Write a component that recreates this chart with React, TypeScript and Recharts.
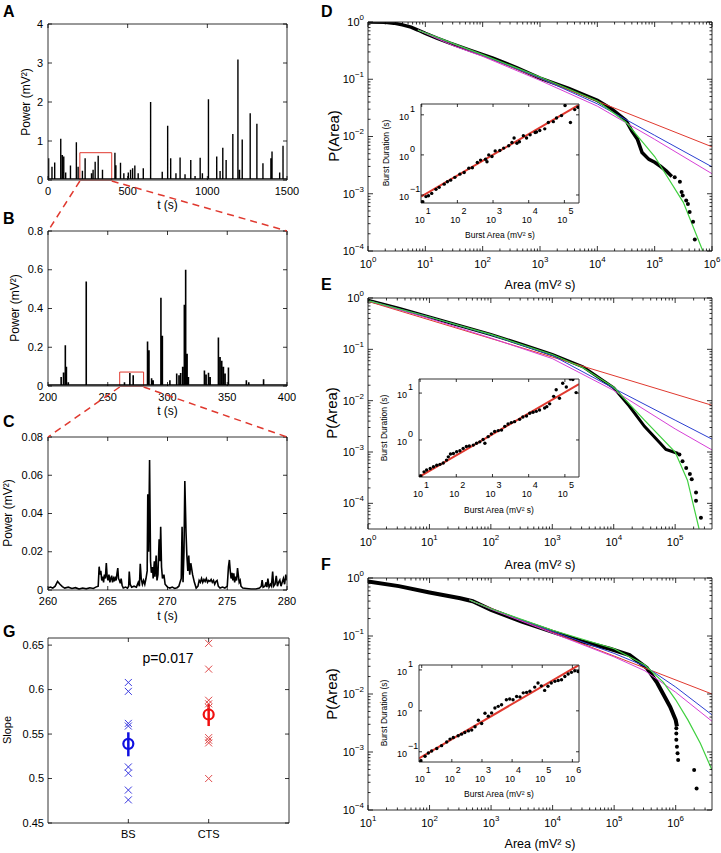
import React from 'react';
import { ComposedChart, Line, Scatter, XAxis, YAxis, ReferenceArea, CartesianGrid } from 'recharts';

const W = 721;
const H = 853;
const FONT = '"Liberation Sans", Arial, Helvetica, sans-serif';

// ---------- A: full recording, spike peaks (t in s, power in mV^2)
const aSpikeT = [4, 25, 42, 80, 90, 99, 111, 141, 178, 189, 216, 233, 273, 283, 296, 315, 342, 420, 426, 455, 476, 504, 518, 531, 545, 566, 598, 644, 717, 751, 770, 803, 829, 860, 896, 923, 955, 969, 1007, 1059, 1080, 1097, 1118, 1160, 1192, 1202, 1219, 1269, 1311, 1349, 1399, 1406, 1454, 1475];
const aSpikeP = [0.56, 0.34, 0.45, 1.06, 0.64, 0.6, 0.19, 0.37, 0.97, 0.34, 0.24, 0.56, 0.17, 0.26, 0.47, 0.62, 0.26, 0.7, 0.38, 0.44, 0.17, 0.19, 0.26, 0.3, 0.37, 0.17, 0.3, 2.0, 0.21, 1.39, 0.56, 0.17, 0.58, 0.15, 0.51, 0.1, 0.57, 0.17, 2.07, 0.6, 0.23, 0.83, 0.51, 1.18, 3.09, 0.26, 1.04, 1.71, 1.44, 0.43, 0.56, 0.73, 0.19, 0.88];
const aBase = 0.03;
const aXTicks = [0, 500, 1000, 1500];
const aYTicks = [0, 1, 2, 3, 4];
const aZoom = [200, 400, 0.7];

// ---------- B: 200-400 s
const bSpikeT = [211, 213, 214.5, 215.4, 217, 232, 264, 268.5, 271.3, 283.3, 284.5, 286.7, 288, 294.5, 295.7, 302, 307.7, 309.6, 311, 312.7, 314.1, 315.2, 316.4, 317.5, 330.9, 332.3, 334.3, 335.7, 342.6, 344, 345.4, 346.8, 348.2, 351, 366, 368, 380.4];
const bSpikeP = [0.046, 0.07, 0.21, 0.1, 0.02, 0.54, 0.02, 0.067, 0.056, 0.23, 0.185, 0.04, 0.03, 0.456, 0.26, 0.03, 0.065, 0.055, 0.067, 0.1, 0.42, 0.6, 0.167, 0.046, 0.08, 0.06, 0.068, 0.046, 0.25, 0.15, 0.13, 0.1, 0.065, 0.095, 0.03, 0.02, 0.035];
const bBase = 0.005;
const bXTicks = [200, 250, 300, 350, 400];
const bYTicks = [0, 0.2, 0.4, 0.6, 0.8];
const bZoom = [260, 280, 0.072];

// ---------- C: 260-280 s trace
const cTrace = [
  [260, 0.001], [260.2, 0.0015], [260.4, 0.001], [260.6, 0.002], [260.8, 0.0045], [261.0, 0.003], [261.2, 0.0018], [261.4, 0.001], [261.7, 0.0015], [262.0, 0.0008], [262.3, 0.0012], [262.6, 0.0005],
  [262.9, 0.001], [263.2, 0.0006], [263.5, 0.0012], [263.8, 0.0008], [264.0, 0.0015], [264.2, 0.002],
  [264.28, 0.0122], [264.35, 0.008], [264.42, 0.01], [264.5, 0.005], [264.58, 0.007], [264.65, 0.004], [264.72, 0.008], [264.8, 0.006], [264.88, 0.0141], [264.95, 0.007], [265.02, 0.005], [265.1, 0.008],
  [265.18, 0.004], [265.25, 0.006], [265.33, 0.0075], [265.4, 0.004], [265.48, 0.006], [265.55, 0.0045], [265.62, 0.007], [265.7, 0.005], [265.78, 0.009], [265.84, 0.0115], [265.9, 0.006], [265.98, 0.005],
  [266.05, 0.0035], [266.12, 0.006], [266.2, 0.0025], [266.3, 0.001], [266.5, 0.0015], [266.65, 0.001], [266.75, 0.002], [266.8, 0.0096], [266.88, 0.003], [267.0, 0.0015], [267.2, 0.002], [267.4, 0.0015],
  [267.55, 0.004], [267.65, 0.002], [267.72, 0.0137], [267.8, 0.006], [267.9, 0.003], [268.0, 0.005], [268.1, 0.003], [268.2, 0.006], [268.3, 0.01], [268.35, 0.05], [268.42, 0.02], [268.5, 0.068],
  [268.58, 0.015], [268.65, 0.009], [268.75, 0.012], [268.8, 0.006], [268.9, 0.015], [268.95, 0.007], [269.05, 0.018], [269.12, 0.005], [269.2, 0.008], [269.3, 0.0265], [269.38, 0.015], [269.43, 0.033],
  [269.5, 0.012], [269.58, 0.006], [269.7, 0.008], [269.8, 0.003], [270.0, 0.0015], [270.2, 0.001], [270.4, 0.0015], [270.6, 0.0008], [270.8, 0.0012], [270.95, 0.002], [271.05, 0.004], [271.15, 0.006],
  [271.22, 0.033], [271.3, 0.004], [271.38, 0.02], [271.45, 0.057], [271.55, 0.03], [271.62, 0.018], [271.7, 0.01], [271.78, 0.018], [271.86, 0.008], [271.95, 0.014], [272.1, 0.008], [272.25, 0.004],
  [272.4, 0.001], [272.55, 0.002], [272.65, 0.005], [272.75, 0.004], [272.85, 0.006], [272.95, 0.004], [273.05, 0.0055], [273.15, 0.0045], [273.25, 0.006], [273.35, 0.004], [273.45, 0.005], [273.55, 0.0045],
  [273.65, 0.0055], [273.75, 0.004], [273.85, 0.005], [273.95, 0.003], [274.05, 0.0045], [274.15, 0.005], [274.25, 0.002], [274.4, 0.001], [274.6, 0.0015], [274.8, 0.001], [275.0, 0.002], [275.1, 0.012],
  [275.18, 0.0157], [275.25, 0.01], [275.32, 0.006], [275.4, 0.009], [275.47, 0.005], [275.55, 0.0087], [275.62, 0.004], [275.7, 0.007], [275.78, 0.005], [275.86, 0.0115], [275.92, 0.008], [276.0, 0.004],
  [276.08, 0.005], [276.15, 0.002], [276.3, 0.001], [276.6, 0.0008], [277.0, 0.0005], [277.4, 0.0005], [277.7, 0.001], [277.85, 0.002], [277.92, 0.0052], [278.0, 0.0015], [278.15, 0.002], [278.25, 0.004],
  [278.32, 0.0015], [278.4, 0.006], [278.5, 0.0015], [278.62, 0.003], [278.7, 0.002], [278.8, 0.0096], [278.88, 0.002], [279.0, 0.003], [279.1, 0.0074], [279.2, 0.002], [279.3, 0.004], [279.4, 0.0052],
  [279.5, 0.002], [279.6, 0.004], [279.7, 0.006], [279.8, 0.003], [279.9, 0.008], [280, 0.005],
];
const cXTicks = [260, 265, 270, 275, 280];
const cYTicks = [0, 0.02, 0.04, 0.06, 0.08];

// ---------- G: slopes
const gCats = ['BS', 'CTS'];
const gBS = [0.608, 0.598, 0.562, 0.559, 0.513, 0.506, 0.487, 0.476];
const gCTS = [0.652, 0.623, 0.588, 0.584, 0.58, 0.546, 0.543, 0.54, 0.5];
const gMean = [0.539, 0.572];
const gLo = [0.525, 0.559];
const gHi = [0.552, 0.584];
const gYTicks = [0.45, 0.5, 0.55, 0.6, 0.65];

// ---------- D/E/F: CCDF of burst area, [log10 area, log10 P]
const dBlack = [[0, 0], [0.3, -0.005], [0.45, -0.02], [0.6, -0.05], [0.75, -0.09], [0.87, -0.14], [1.0, -0.2], [1.2, -0.28], [1.43, -0.37], [1.8, -0.5], [2.18, -0.63], [2.6, -0.8], [3, -0.98], [3.5, -1.16], [4, -1.37], [4.25, -1.52], [4.5, -1.72], [4.6, -1.9], [4.7, -2.05], [4.78, -2.28], [4.9, -2.4], [5.0, -2.45], [5.1, -2.52], [5.2, -2.6], [5.3, -2.7]];
const dDots = [[5.35, -2.71], [5.44, -2.79], [5.47, -2.97], [5.49, -3.03], [5.55, -3.12], [5.58, -3.18], [5.61, -3.32], [5.67, -3.49], [5.70, -3.8]];
const dRed = [[0.87, -0.14], [6, -2.18]];
const dBlue = [[0.87, -0.14], [2, -0.58], [3, -0.98], [4, -1.43], [5, -1.98], [6, -2.53]];
const dMagenta = [[0.87, -0.14], [1.5, -0.42], [2, -0.6], [3, -1.02], [4, -1.47], [5, -2.05], [6, -2.65]];
const dGreen = [[0.87, -0.14], [2, -0.57], [3, -0.96], [4, -1.38], [4.5, -1.75], [5, -2.35], [5.5, -3.15], [5.84, -4.0], [5.9, -4.2]];

const eBlack = [[0, -0.045], [0.5, -0.2], [1, -0.37], [1.5, -0.54], [2, -0.71], [2.5, -0.9], [3, -1.1], [3.5, -1.34], [4, -1.75], [4.25, -2.1], [4.5, -2.5], [4.75, -2.82], [4.85, -2.95], [5.0, -3.01], [5.05, -3.03]];
const eDots = [[5.07, -3.05], [5.12, -3.18], [5.18, -3.31], [5.24, -3.43], [5.27, -3.53], [5.34, -3.79], [5.34, -3.95], [5.42, -4.28]];
const eRed = [[0, -0.065], [5.6, -2.09]];
const eBlue = [[0, -0.05], [1, -0.37], [2, -0.72], [3, -1.12], [4, -1.76], [5, -2.38], [5.6, -2.75]];
const eMagenta = [[0, -0.05], [1, -0.4], [2, -0.78], [3, -1.18], [4, -1.8], [5, -2.55], [5.6, -2.96]];
const eGreen = [[0, -0.05], [1, -0.37], [2, -0.71], [3, -1.1], [3.5, -1.36], [4, -1.74], [4.5, -2.38], [5, -3.0], [5.2, -3.55], [5.39, -4.5]];

const fBlack = [[1, -0.06], [1.5, -0.14], [2, -0.25], [2.5, -0.35], [2.7, -0.4], [3, -0.55], [3.5, -0.75], [4, -0.93], [4.5, -1.1], [4.93, -1.22], [5.25, -1.33], [5.53, -1.55], [5.7, -1.81], [5.91, -2.22], [6.0, -2.45], [6.02, -2.56]];
const fDots = [[6.01, -2.59], [6.01, -2.68], [6.01, -2.79], [6.02, -2.91], [6.03, -3.02], [6.04, -3.14], [6.3, -3.31], [6.34, -3.63]];
const fRed = [[2.65, -0.38], [6.59, -2.0]];
const fBlue = [[2.65, -0.38], [3, -0.53], [4, -0.92], [5, -1.3], [5.5, -1.52], [6, -1.88], [6.59, -2.36]];
const fMagenta = [[2.65, -0.38], [3, -0.54], [4, -0.95], [5, -1.36], [5.5, -1.6], [6, -1.97], [6.59, -2.47]];
const fGreen = [[2.65, -0.38], [3, -0.53], [4, -0.9], [5, -1.22], [5.5, -1.5], [5.8, -1.8], [6, -2.1], [6.2, -2.45], [6.4, -2.85], [6.59, -3.31]];

// insets: burst duration vs burst area, [log10 area, log10 duration]
const dInsetPts = [[1.03, -1.17], [1.12, -1.04], [1.19, -1.02], [1.28, -0.96], [1.4, -0.86], [1.49, -0.81], [1.63, -0.73], [1.72, -0.67], [1.81, -0.63], [1.93, -0.56], [2.07, -0.48], [2.19, -0.44], [2.32, -0.33], [2.42, -0.32], [2.56, -0.19], [2.65, -0.13], [2.79, -0.11], [2.83, -0.17], [2.88, 0.0], [2.97, -0.04], [3.06, 0.1], [3.19, 0.11], [3.3, 0.17], [3.44, 0.23], [3.53, 0.31], [3.59, 0.42], [3.67, 0.29], [3.74, 0.33], [3.85, 0.48], [3.94, 0.42], [4.04, 0.5], [4.18, 0.56], [4.22, 0.57], [4.31, 0.61], [4.45, 0.65], [4.55, 0.81], [4.69, 0.83], [4.78, 0.92], [4.92, 0.98], [5.02, 1.23], [5.17, 0.81], [5.29, 1.13], [5.38, 1.19]];
const dInsetFit = [[0.98, -1.04], [5.41, 1.25]];
const eInsetPts = [[1.02, -0.77], [1.11, -0.68], [1.18, -0.64], [1.28, -0.61], [1.37, -0.57], [1.46, -0.54], [1.55, -0.52], [1.64, -0.49], [1.73, -0.43], [1.78, -0.36], [1.84, -0.3], [1.92, -0.29], [2.01, -0.25], [2.1, -0.23], [2.19, -0.18], [2.28, -0.14], [2.36, -0.13], [2.47, -0.11], [2.56, -0.07], [2.65, -0.04], [2.74, 0.01], [2.79, -0.07], [2.88, 0.07], [2.97, 0.13], [3.06, 0.18], [3.16, 0.2], [3.25, 0.21], [3.34, 0.29], [3.43, 0.34], [3.52, 0.37], [3.61, 0.39], [3.75, 0.44], [3.84, 0.49], [3.94, 0.51], [4.03, 0.57], [4.12, 0.59], [4.21, 0.61], [4.3, 0.64], [4.44, 0.68], [4.5, 0.71], [4.58, 0.77], [4.69, 0.93], [4.76, 1.07], [4.85, 0.89], [4.94, 1.21], [5.04, 1.13], [5.15, 1.3], [5.22, 1.29], [5.31, 1.01]];
const eInsetFit = [[0.97, -0.79], [5.39, 1.19]];
const fInsetPts = [[0.97, -1.22], [1.11, -1.11], [1.22, -1.03], [1.33, -0.98], [1.5, -0.92], [1.66, -0.85], [1.83, -0.76], [1.94, -0.69], [2.05, -0.65], [2.21, -0.61], [2.32, -0.57], [2.43, -0.53], [2.55, -0.49], [2.66, -0.47], [2.77, -0.39], [2.88, -0.23], [2.99, -0.31], [3.1, -0.06], [3.21, -0.13], [3.32, -0.05], [3.43, 0.07], [3.54, 0.11], [3.65, 0.15], [3.81, 0.27], [3.92, 0.29], [4.03, 0.27], [4.15, 0.35], [4.26, 0.34], [4.37, 0.44], [4.48, 0.45], [4.59, 0.48], [4.75, 0.58], [4.86, 0.68], [4.97, 0.61], [5.08, 0.5], [5.19, 0.6], [5.3, 0.68], [5.42, 0.72], [5.53, 0.74], [5.64, 0.76], [5.75, 0.84], [5.86, 0.9], [5.97, 0.94], [6.08, 0.98], [6.19, 0.96]];
const fInsetFit = [[0.91, -1.16], [6.22, 1.12]];

const decades = (lo: number, hi: number) => {
  const out: number[] = [];
  for (let e = lo; e <= hi; e++) out.push(10 ** e);
  return out;
};
const minorTicks = (lo: number, hi: number) => {
  const out: number[] = [];
  for (let e = Math.floor(lo); e < Math.ceil(hi); e++)
    for (let m = 2; m <= 9; m++) {
      const lv = Math.log10(m) + e;
      if (lv > lo && lv < hi) out.push(m * 10 ** e);
    }
  return out;
};

const spikes = (ts: number[], ps: number[], base: number, x0: number, x1: number) => [
  { x: x0, y: base },
  ...ts.flatMap((t, i) => [{ x: t, y: base }, { x: t, y: ps[i] }, { x: t, y: base }]),
  { x: x1, y: base },
];
const pairs = (pts: number[][]) => pts.map(([x, y]) => ({ x, y }));
const fromLog = (pts: number[][]) => pts.map(([lx, ly]) => ({ x: 10 ** lx, y: 10 ** ly }));

type Rect = { l: number; t: number; r: number; b: number };
type Kind = 'num' | 'pow' | 'inset' | 'cat';
type Ax = { domain: [number, number]; log?: boolean; majors: number[]; minors?: number[]; kind: Kind; fmt?: (v: number) => string };
type Cfg = { rect: Rect; x: Ax; y: Ax; fs: number; len: number; minorLen?: number; xOff: number; yOff: number; bg?: boolean };

const expText = (v: number) => {
  const e = Math.round(Math.log10(v));
  return e < 0 ? `\u2212${-e}` : `${e}`;
};

function tickFor(side: 'bottom' | 'top' | 'left' | 'right', cfg: Cfg, ax: Ax) {
  const { rect, fs, len } = cfg;
  const mlen = cfg.minorLen ?? len / 2;
  return (p: any) => {
    const v = Number(p.payload.value);
    const major = ax.majors.some((m) => Math.abs(m - v) <= Math.abs(m) * 1e-6 + 1e-12);
    const L = major ? len : mlen;
    const c = side === 'bottom' || side === 'top' ? p.x : p.y;
    let tl;
    if (side === 'bottom') tl = <line x1={c} x2={c} y1={rect.b} y2={rect.b - L} />;
    else if (side === 'top') tl = <line x1={c} x2={c} y1={rect.t} y2={rect.t + L} />;
    else if (side === 'left') tl = <line x1={rect.l} x2={rect.l + L} y1={c} y2={c} />;
    else tl = <line x1={rect.r} x2={rect.r - L} y1={c} y2={c} />;
    let label: React.ReactNode = null;
    const tp = { fontSize: fs, fontFamily: FONT, fill: '#000', stroke: 'none' };
    if (major && side === 'bottom') {
      const y = rect.b + cfg.xOff;
      if (ax.kind === 'pow')
        label = (
          <text x={c} y={y} textAnchor="middle" {...tp}>
            10<tspan dy={-6} fontSize={fs * 0.72}>{expText(v)}</tspan>
          </text>
        );
      else if (ax.kind === 'inset')
        label = (
          <g>
            <text x={c - 2} y={y} textAnchor="middle" {...tp}>10</text>
            <text x={c + 4} y={y - 9} {...tp}>{expText(v)}</text>
          </g>
        );
      else label = <text x={c} y={y} textAnchor="middle" {...tp}>{ax.fmt ? ax.fmt(v) : String(v)}</text>;
    }
    if (major && side === 'left') {
      const x = rect.l - cfg.yOff;
      if (ax.kind === 'pow')
        label = (
          <text x={x} y={c + fs * 0.36} textAnchor="end" {...tp}>
            10<tspan dy={-6} fontSize={fs * 0.72}>{expText(v)}</tspan>
          </text>
        );
      else if (ax.kind === 'inset')
        label = (
          <g>
            <text x={x} y={c + 5} textAnchor="end" {...tp}>10</text>
            <text x={x + 1} y={c - 3} {...tp}>{expText(v)}</text>
          </g>
        );
      else label = <text x={x} y={c + fs * 0.33} textAnchor="end" {...tp}>{ax.fmt ? ax.fmt(v) : String(v)}</text>;
    }
    return (
      <g>
        <g stroke="#000" strokeWidth={0.8}>{tl}</g>
        {label}
      </g>
    );
  };
}

function axes(cfg: Cfg) {
  const common = {
    allowDataOverflow: true,
    tickLine: false,
    tickSize: 0,
    interval: 0 as const,
    axisLine: { stroke: '#333', strokeWidth: 1 },
  };
  const xt = [...cfg.x.majors, ...(cfg.x.minors ?? [])];
  const yt = [...cfg.y.majors, ...(cfg.y.minors ?? [])];
  const xs = cfg.x.log ? 'log' : 'linear';
  const ys = cfg.y.log ? 'log' : 'linear';
  return [
    <XAxis key="xb" xAxisId="b" orientation="bottom" dataKey="x" type="number" scale={xs} domain={cfg.x.domain} ticks={xt} height={1} tick={tickFor('bottom', cfg, cfg.x)} {...common} />,
    <XAxis key="xt" xAxisId="t" orientation="top" dataKey="x" type="number" scale={xs} domain={cfg.x.domain} ticks={xt} height={1} tick={tickFor('top', cfg, cfg.x)} {...common} />,
    <YAxis key="yl" yAxisId="l" orientation="left" dataKey="y" type="number" scale={ys} domain={cfg.y.domain} ticks={yt} width={1} tick={tickFor('left', cfg, cfg.y)} {...common} />,
    <YAxis key="yr" yAxisId="r" orientation="right" dataKey="y" type="number" scale={ys} domain={cfg.y.domain} ticks={yt} width={1} tick={tickFor('right', cfg, cfg.y)} {...common} />,
  ];
}

function Chart({ cfg, children }: { cfg: Cfg; children: React.ReactNode }) {
  // one pixel per axis band, so the plot area lands exactly on cfg.rect
  const m = { top: cfg.rect.t - 1, left: cfg.rect.l - 1, right: W - cfg.rect.r - 1, bottom: H - cfg.rect.b - 1 };
  return (
    <div style={{ position: 'absolute', left: 0, top: 0 }}>
      <ComposedChart width={W} height={H} margin={m}>
        {cfg.bg && <CartesianGrid xAxisId="b" yAxisId="l" horizontal={false} vertical={false} fill="#fff" fillOpacity={1} />}
        {axes(cfg)}
        {children}
      </ComposedChart>
    </div>
  );
}

const S = { xAxisId: 'b', yAxisId: 'l', isAnimationActive: false, dot: false, activeDot: false, type: 'linear' as const };

const Dot = (r: number) => (p: any) => <circle cx={p.cx} cy={p.cy} r={r} fill="#000" />;
const XMark = (color: string) => (p: any) => (
  <path d={`M${p.cx - 3.5},${p.cy - 3.5}L${p.cx + 3.5},${p.cy + 3.5}M${p.cx - 3.5},${p.cy + 3.5}L${p.cx + 3.5},${p.cy - 3.5}`} stroke={color} strokeWidth={1} fill="none" />
);
const Ring = (color: string) => (p: any) => <circle cx={p.cx} cy={p.cy} r={5} fill="none" stroke={color} strokeWidth={2.2} />;

const RED = '#e0392f';
const BLUE = '#2b3fd0';
const MAGENTA = '#d63fd6';
const GREEN = '#40d040';

const num = { kind: 'num' as const };
const aCfg: Cfg = { rect: { l: 48, t: 24, r: 287, b: 180 }, x: { domain: [0, 1500], majors: aXTicks, ...num }, y: { domain: [0, 4], majors: aYTicks, ...num }, fs: 11, len: 4, xOff: 15, yOff: 5 };
const bCfg: Cfg = { rect: { l: 48, t: 231, r: 287, b: 386 }, x: { domain: [200, 400], majors: bXTicks, ...num }, y: { domain: [0, 0.8], majors: bYTicks, ...num }, fs: 11, len: 4, xOff: 15, yOff: 5 };
const cCfg: Cfg = { rect: { l: 48, t: 437, r: 287, b: 590 }, x: { domain: [260, 280], majors: cXTicks, ...num }, y: { domain: [0, 0.08], majors: cYTicks, ...num }, fs: 11, len: 4, xOff: 15, yOff: 5 };
const gCfg: Cfg = {
  rect: { l: 48, t: 638, r: 289, b: 823 },
  x: { domain: [0, 3], majors: [1, 2], kind: 'cat', fmt: (v) => gCats[Math.round(v) - 1] },
  y: { domain: [0.45, 0.658], majors: gYTicks, ...num },
  fs: 11, len: 4, xOff: 15, yOff: 4,
};
const logAx = (lo: number, hi: number, kind: Kind, minors = true): Ax => ({
  domain: [10 ** lo, 10 ** hi],
  log: true,
  majors: decades(Math.ceil(lo - 1e-9), Math.floor(hi + 1e-9)),
  minors: minors ? minorTicks(lo, hi) : [],
  kind,
});
const dCfg: Cfg = { rect: { l: 368, t: 22, r: 712, b: 251 }, x: logAx(0, 6, 'pow'), y: logAx(-4, 0, 'pow'), fs: 11, len: 5, minorLen: 2.5, xOff: 17, yOff: 4 };
const eCfg: Cfg = { rect: { l: 368, t: 298, r: 712, b: 529 }, x: logAx(0, 5.6, 'pow'), y: logAx(-4.5, 0, 'pow'), fs: 11, len: 5, minorLen: 2.5, xOff: 17, yOff: 4 };
const fCfg: Cfg = { rect: { l: 368, t: 578, r: 712, b: 810 }, x: logAx(1, 6.59, 'pow'), y: logAx(-4, 0, 'pow'), fs: 11, len: 5, minorLen: 2.5, xOff: 17, yOff: 4 };
const diCfg: Cfg = { rect: { l: 421, t: 104, r: 579, b: 203 }, x: logAx(0.98, 5.41, 'inset', false), y: logAx(-1.2, 1.27, 'inset', false), fs: 9, len: 3, xOff: 20, yOff: 12, bg: true };
const eiCfg: Cfg = { rect: { l: 419, t: 379, r: 579, b: 477 }, x: logAx(0.97, 5.39, 'inset', false), y: logAx(-0.79, 1.3, 'inset', false), fs: 9, len: 3, xOff: 20, yOff: 12, bg: true };
const fiCfg: Cfg = { rect: { l: 419, t: 665, r: 579, b: 762 }, x: logAx(0.91, 6.22, 'inset', false), y: logAx(-1.25, 1.12, 'inset', false), fs: 9, len: 3, xOff: 20, yOff: 12, bg: true };

function CcdfPanel({ cfg, black, dots, red, blue, magenta, green, bw }: any) {
  return (
    <Chart cfg={cfg}>
      <Line {...S} data={fromLog(black)} dataKey="y" stroke="#000" strokeWidth={bw} />
      <Line {...S} data={fromLog(red)} dataKey="y" stroke={RED} strokeWidth={1} />
      <Line {...S} data={fromLog(blue)} dataKey="y" stroke={BLUE} strokeWidth={1} />
      <Line {...S} data={fromLog(magenta)} dataKey="y" stroke={MAGENTA} strokeWidth={1} />
      <Line {...S} data={fromLog(green)} dataKey="y" stroke={GREEN} strokeWidth={1.2} />
      <Scatter xAxisId="b" yAxisId="l" data={fromLog(dots)} isAnimationActive={false} shape={Dot(2)} />
    </Chart>
  );
}

function InsetPanel({ cfg, pts, fit }: any) {
  return (
    <Chart cfg={cfg}>
      <Scatter xAxisId="b" yAxisId="l" data={fromLog(pts)} isAnimationActive={false} shape={Dot(1.7)} />
      <Line {...S} data={fromLog(fit)} dataKey="y" stroke={RED} strokeWidth={2} />
    </Chart>
  );
}

const xOf = (cfg: Cfg, v: number) => cfg.rect.l + ((v - cfg.x.domain[0]) / (cfg.x.domain[1] - cfg.x.domain[0])) * (cfg.rect.r - cfg.rect.l);

function Overlay() {
  const letter = (t: string, x: number, y: number) => (
    <text key={t} x={x} y={y} fontSize={16} fontWeight="bold">{t}</text>
  );
  const vlabel = (t: string, x: number, y: number, fs: number, k: string) => (
    <text key={k} transform={`translate(${x},${y}) rotate(-90)`} textAnchor="middle" fontSize={fs}>{t}</text>
  );
  const hlabel = (t: string, x: number, y: number, fs: number, k: string) => (
    <text key={k} x={x} y={y} textAnchor="middle" fontSize={fs}>{t}</text>
  );
  const dash = { stroke: RED, strokeWidth: 1.5, strokeDasharray: '7 5' };
  return (
    <svg width={W} height={H} style={{ position: 'absolute', left: 0, top: 0, pointerEvents: 'none' }} fontFamily={FONT}>
      {letter('A', 3, 17)}
      {letter('B', 3, 224)}
      {letter('C', 3, 427)}
      {letter('G', 3, 637)}
      {letter('D', 321, 17)}
      {letter('E', 321, 290)}
      {letter('F', 321, 570)}
      {vlabel('Power (mV\u00b2)', 30, 102, 12, 'pa')}
      {vlabel('Power (mV\u00b2)', 19, 308, 12, 'pb')}
      {vlabel('Power (mV\u00b2)', 12, 513, 12, 'pc')}
      {vlabel('Slope', 11, 730, 11, 'sg')}
      {hlabel('t (s)', 167.5, 209, 12, 'ta')}
      {hlabel('t (s)', 167.5, 415, 12, 'tb')}
      {hlabel('t (s)', 167.5, 620, 12, 'tc')}
      {hlabel('p=0.017', 168, 663, 14, 'pv')}
      {vlabel('P(Area)', 339, 136, 15, 'pd')}
      {vlabel('P(Area)', 337, 413, 15, 'pe')}
      {vlabel('P(Area)', 337, 694, 15, 'pf')}
      {hlabel('Area (mV\u00b2 s)', 540, 289, 12.5, 'ad')}
      {hlabel('Area (mV\u00b2 s)', 540, 569, 12.5, 'ae')}
      {hlabel('Area (mV\u00b2 s)', 540, 848, 12.5, 'af')}
      {vlabel('Burst Duration (s)', 389, 153, 8.5, 'bd')}
      {vlabel('Burst Duration (s)', 387, 428, 8.5, 'be')}
      {vlabel('Burst Duration (s)', 387, 713, 8.5, 'bf')}
      {hlabel('Burst Area (mV\u00b2 s)', 500, 238, 8.5, 'bad')}
      {hlabel('Burst Area (mV\u00b2 s)', 499, 513, 8.5, 'bae')}
      {hlabel('Burst Area (mV\u00b2 s)', 499, 797, 8.5, 'baf')}
      <line x1={xOf(aCfg, aZoom[0])} y1={aCfg.rect.b + 1} x2={bCfg.rect.l} y2={bCfg.rect.t} {...dash} />
      <line x1={xOf(aCfg, aZoom[1])} y1={aCfg.rect.b + 1} x2={bCfg.rect.r} y2={bCfg.rect.t} {...dash} />
      <line x1={xOf(bCfg, bZoom[0])} y1={bCfg.rect.b + 1} x2={cCfg.rect.l} y2={cCfg.rect.t} {...dash} />
      <line x1={xOf(bCfg, bZoom[1])} y1={bCfg.rect.b + 1} x2={cCfg.rect.r} y2={cCfg.rect.t} {...dash} />
    </svg>
  );
}

export default function App() {
  return (
    <div style={{ position: 'absolute', left: 0, top: 0, width: W, height: H, background: '#fff', fontFamily: FONT }}>
      <Chart cfg={aCfg}>
        <Line {...S} data={spikes(aSpikeT, aSpikeP, aBase, 0, 1500)} dataKey="y" stroke="#000" strokeWidth={1.4} />
        <ReferenceArea xAxisId="b" yAxisId="l" x1={aZoom[0]} x2={aZoom[1]} y1={0} y2={aZoom[2]} stroke={RED} strokeWidth={1} fill="none" />
      </Chart>
      <Chart cfg={bCfg}>
        <Line {...S} data={spikes(bSpikeT, bSpikeP, bBase, 200, 400)} dataKey="y" stroke="#000" strokeWidth={1.6} />
        <ReferenceArea xAxisId="b" yAxisId="l" x1={bZoom[0]} x2={bZoom[1]} y1={0} y2={bZoom[2]} stroke={RED} strokeWidth={1} fill="none" />
      </Chart>
      <Chart cfg={cCfg}>
        <Line {...S} data={pairs(cTrace)} dataKey="y" stroke="#000" strokeWidth={1.6} />
      </Chart>
      <Chart cfg={gCfg}>
        <Scatter xAxisId="b" yAxisId="l" data={gBS.map((y) => ({ x: 1, y }))} isAnimationActive={false} shape={XMark('#3a3ae0')} />
        <Scatter xAxisId="b" yAxisId="l" data={gCTS.map((y) => ({ x: 2, y }))} isAnimationActive={false} shape={XMark('#e04a4a')} />
        <Line {...S} data={[{ x: 1, y: gLo[0] }, { x: 1, y: gHi[0] }]} dataKey="y" stroke="#1010e0" strokeWidth={2.5} />
        <Line {...S} data={[{ x: 2, y: gLo[1] }, { x: 2, y: gHi[1] }]} dataKey="y" stroke="#f01010" strokeWidth={2.5} />
        <Scatter xAxisId="b" yAxisId="l" data={[{ x: 1, y: gMean[0] }]} isAnimationActive={false} shape={Ring('#1010e0')} />
        <Scatter xAxisId="b" yAxisId="l" data={[{ x: 2, y: gMean[1] }]} isAnimationActive={false} shape={Ring('#f01010')} />
      </Chart>
      <CcdfPanel cfg={dCfg} black={dBlack} dots={dDots} red={dRed} blue={dBlue} magenta={dMagenta} green={dGreen} bw={3.5} />
      <InsetPanel cfg={diCfg} pts={dInsetPts} fit={dInsetFit} />
      <CcdfPanel cfg={eCfg} black={eBlack} dots={eDots} red={eRed} blue={eBlue} magenta={eMagenta} green={eGreen} bw={3} />
      <InsetPanel cfg={eiCfg} pts={eInsetPts} fit={eInsetFit} />
      <CcdfPanel cfg={fCfg} black={fBlack} dots={fDots} red={fRed} blue={fBlue} magenta={fMagenta} green={fGreen} bw={4} />
      <InsetPanel cfg={fiCfg} pts={fInsetPts} fit={fInsetFit} />
      <Overlay />
    </div>
  );
}
